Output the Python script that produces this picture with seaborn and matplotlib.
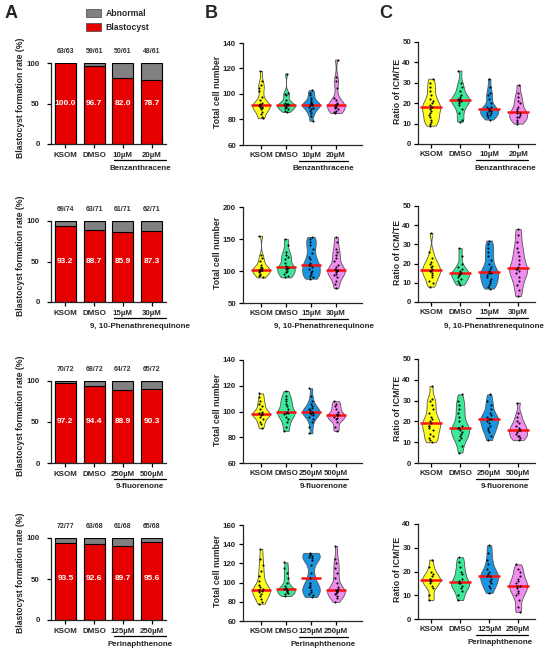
import numpy as np
import pandas as pd
import matplotlib
matplotlib.use("Agg")
import matplotlib.pyplot as plt
import seaborn as sns
from matplotlib.patches import Patch
from matplotlib.transforms import blended_transform_factory, offset_copy

# ---------------- data ----------------
chemicals = ["Benzanthracene", "9, 10-Phenathrenequinone", "9-fluorenone", "Perinaphthenone"]
groups_1 = ["KSOM", "DMSO", "10µM", "20µM"]
groups_2 = ["KSOM", "DMSO", "15µM", "30µM"]
groups_3 = ["KSOM", "DMSO", "250µM", "500µM"]
groups_4 = ["KSOM", "DMSO", "125µM", "250µM"]

blasto_1 = [63, 59, 50, 48]
total_1 = [63, 61, 61, 61]
blasto_2 = [69, 63, 61, 62]
total_2 = [74, 71, 71, 71]
blasto_3 = [70, 68, 64, 65]
total_3 = [72, 72, 72, 72]
blasto_4 = [72, 63, 61, 65]
total_4 = [77, 68, 68, 68]

cells_1 = [
    [81, 82, 84, 86, 88, 89, 90, 90, 91, 91, 91, 92, 93, 95, 98, 102, 105, 107, 110, 118],
    [86, 87, 88, 89, 90, 90, 91, 91, 91, 92, 92, 93, 95, 99, 100, 101, 116],
    [79, 83, 85, 87, 88, 89, 90, 91, 91, 92, 92, 93, 94, 95, 97, 99, 101, 103],
    [85, 86, 87, 88, 89, 90, 90, 91, 91, 92, 93, 95, 97, 105, 110, 113, 127],
]
ratio_1 = [
    [9, 10, 11, 12, 13, 14, 15, 16, 17, 18, 18, 19, 20, 21, 22, 24, 26, 28, 30, 32],
    [11, 12, 15, 17, 19, 20, 21, 21, 22, 22, 23, 24, 26, 28, 30, 36],
    [12, 13, 14, 14, 15, 15, 16, 16, 17, 17, 18, 18, 20, 22, 24, 25, 28, 32],
    [10, 11, 12, 13, 13, 14, 15, 15, 16, 17, 18, 20, 21, 23, 25, 29],
]
cells_2 = [
    [90, 92, 94, 96, 98, 100, 101, 102, 102, 103, 105, 107, 110, 115, 120, 125, 155],
    [90, 92, 95, 98, 100, 103, 105, 105, 108, 112, 118, 122, 125, 130, 140, 150],
    [88, 90, 92, 95, 98, 100, 103, 106, 110, 110, 113, 118, 122, 128, 135, 140, 145, 150, 153],
    [73, 80, 85, 90, 93, 96, 98, 100, 101, 101, 103, 106, 110, 115, 120, 125, 130, 135, 145, 153],
]
ratio_2 = [
    [8, 10, 11, 13, 14, 15, 16, 16, 17, 18, 19, 20, 21, 23, 26, 36],
    [9, 10, 11, 12, 13, 14, 14, 15, 15, 16, 17, 18, 20, 24, 28],
    [7, 8, 9, 10, 11, 12, 13, 14, 15, 15, 16, 17, 18, 20, 22, 24, 26, 28, 30, 32],
    [3, 6, 9, 11, 13, 15, 16, 17, 17, 18, 20, 22, 24, 26, 28, 31, 35, 38],
]
cells_3 = [
    [87, 90, 92, 94, 96, 97, 98, 98, 98, 99, 100, 102, 104, 106, 108, 111, 114],
    [85, 88, 92, 94, 96, 98, 99, 99, 100, 102, 104, 106, 108, 110, 112, 116],
    [83, 88, 92, 94, 96, 97, 98, 99, 99, 100, 100, 101, 102, 103, 104, 106, 108, 112, 118],
    [85, 88, 92, 94, 95, 96, 97, 97, 98, 100, 102, 104, 106, 108],
]
ratio_3 = [
    [10, 11, 12, 13, 14, 16, 17, 18, 18, 19, 20, 21, 22, 24, 26, 28, 30, 31, 37],
    [5, 8, 11, 12, 13, 14, 15, 16, 17, 17, 18, 20, 22, 24, 26, 28, 30, 33],
    [11, 13, 15, 16, 17, 18, 19, 20, 21, 21, 22, 23, 24, 26, 28, 30, 33],
    [11, 12, 13, 13, 14, 15, 16, 16, 17, 18, 19, 20, 22, 24, 29],
]
cells_4 = [
    [78, 80, 83, 86, 88, 90, 91, 92, 92, 93, 95, 98, 102, 107, 112, 118, 125, 135],
    [86, 88, 89, 90, 91, 92, 92, 93, 94, 96, 100, 105, 110, 115, 121],
    [85, 87, 88, 90, 92, 95, 95, 97, 100, 105, 110, 118, 124, 126, 127, 128, 129, 130, 131],
    [80, 84, 86, 88, 89, 90, 91, 91, 92, 93, 95, 100, 105, 110, 115, 120, 125, 138],
]
ratio_4 = [
    [8, 10, 13, 14, 15, 16, 16, 17, 17, 18, 19, 20, 22, 25],
    [8, 10, 12, 13, 14, 15, 15, 16, 17, 19, 20, 22, 24, 26],
    [11, 13, 14, 15, 16, 17, 18, 18, 19, 20, 21, 23, 25, 28, 31],
    [3, 5, 8, 10, 11, 12, 13, 14, 14, 15, 16, 17, 18, 20, 21, 23],
]

cell_ticks = [[60, 80, 100, 120, 140], [50, 100, 150, 200], [60, 80, 100, 120, 140], [60, 80, 100, 120, 140, 160]]
ratio_ticks = [[0, 10, 20, 30, 40, 50], [0, 10, 20, 30, 40, 50], [0, 10, 20, 30, 40, 50], [0, 10, 20, 30, 40]]
bar_ticks = [0, 50, 100]

# ---------------- style ----------------
W, H = 550, 658
sns.set_theme(style="ticks")
plt.rcParams["font.family"] = ["Liberation Sans", "DejaVu Sans"]
plt.rcParams["font.weight"] = "bold"
plt.rcParams["axes.labelweight"] = "bold"
plt.rcParams["axes.linewidth"] = 0.9

RED = "#E60000"
GRAY = "#808080"
VCOLORS = ["#FFFF1A", "#3CE89A", "#1A96E0", "#F28CF0"]

fig = plt.figure(figsize=(W / 100, H / 100), dpi=100)


def rect(l, t, r, b):
    return [l / W, 1 - b / H, (r - l) / W, (b - t) / H]


colA = (51, 166)
colB = (243, 362)
colC = (418, 535)
rowsA = [(63, 144), (221, 302), (381, 463), (538, 620)]
rowsB = [(43, 145), (207, 303), (360, 463), (525, 621)]
rowsC = [(42, 144), (206, 302), (359, 463), (524, 619)]
textC = [505, 494, 505, 500]

groups_all = [groups_1, groups_2, groups_3, groups_4]
blasto_all = [blasto_1, blasto_2, blasto_3, blasto_4]
total_all = [total_1, total_2, total_3, total_4]
cells_all = [cells_1, cells_2, cells_3, cells_4]
ratio_all = [ratio_1, ratio_2, ratio_3, ratio_4]


def style_axis(ax, pad):
    sns.despine(ax=ax)
    ax.tick_params(axis="both", length=3, width=0.9, labelsize=5.7, pad=pad, color="black")
    for lab in ax.get_xticklabels() + ax.get_yticklabels():
        lab.set_fontweight("bold")
    ax.set_xlabel("")


def group_line(ax, col, xlim, px0, px1, label, text_px=None):
    l, r = col
    unit = (r - l) / (xlim[1] - xlim[0])
    x0 = (px0 - l) / unit + xlim[0]
    x1 = (px1 - l) / unit + xlim[0]
    xt = (x0 + x1) / 2 if text_px is None else (text_px - l) / unit + xlim[0]
    base = blended_transform_factory(ax.transData, ax.transAxes)
    tl = offset_copy(base, fig=fig, y=-16, units="dots")
    tt = offset_copy(base, fig=fig, y=-24, units="dots")
    ax.plot([x0, x1], [0, 0], transform=tl, color="black", lw=0.9, clip_on=False)
    ax.text(xt, 0, label, transform=tt, ha="center", va="center",
            fontsize=5.8, fontweight="bold", clip_on=False)


def make_df(groups, values):
    g, v = [], []
    for name, vals in zip(groups, values):
        g += [name] * len(vals)
        v += list(vals)
    return pd.DataFrame({"group": g, "value": v})


def violin_panel(ax, groups, values, ticks, ylabel, col, xlim, width, lab_x):
    df = make_df(groups, values)
    sns.violinplot(data=df, x="group", y="value", hue="group", order=groups, hue_order=groups,
                   palette=VCOLORS, saturation=1, cut=0, inner=None, density_norm="width",
                   width=width, linewidth=0.6, linecolor="#555555", bw_adjust=0.6,
                   legend=False, ax=ax)
    sns.stripplot(data=df, x="group", y="value", order=groups, color="black", size=1.5,
                  jitter=0.08, ax=ax)
    sns.boxplot(data=df, x="group", y="value", order=groups, width=0.78, showbox=False,
                showcaps=False, showfliers=False, whis=0,
                whiskerprops=dict(visible=False),
                medianprops=dict(color="#FF1010", linewidth=1.8), ax=ax)
    ax.set_ylim(ticks[0], ticks[-1])
    ax.set_yticks(ticks)
    ax.set_xlim(*xlim)
    ax.set_ylabel(ylabel, fontsize=6.3, fontweight="bold")
    l, r = col
    ax.yaxis.set_label_coords((lab_x - l) / (r - l), 0.52)
    style_axis(ax, 2)


for i in range(4):
    # ---- column A: stacked bars ----
    axA = fig.add_axes(rect(colA[0], rowsA[i][0], colA[1], rowsA[i][1]))
    groups = groups_all[i]
    b = np.array(blasto_all[i], dtype=float)
    t = np.array(total_all[i], dtype=float)
    pct = b / t * 100
    full = t / t * 100
    sns.barplot(x=groups, y=full, order=groups, color=GRAY, saturation=1, width=0.73,
                edgecolor="black", linewidth=0.8, errorbar=None, ax=axA)
    sns.barplot(x=groups, y=pct, order=groups, color=RED, saturation=1, width=0.73,
                edgecolor="black", linewidth=0.8, errorbar=None, ax=axA)
    for j in range(4):
        axA.text(j, 50, f"{pct[j]:.1f}", ha="center", va="center", color="white",
                 fontsize=6, fontweight="bold")
        axA.text(j, 114, f"{int(b[j])}/{int(t[j])}", ha="center", va="center",
                 color="#333333", fontsize=5, fontweight="bold", clip_on=False)
    axA.set_ylim(0, 100)
    axA.set_yticks(bar_ticks)
    axA.set_xlim(-0.5, 3.5)
    axA.set_ylabel("Blastocyst formation rate (%)", fontsize=6.2, fontweight="bold")
    axA.yaxis.set_label_coords((25 - colA[0]) / (colA[1] - colA[0]), 0.57)
    style_axis(axA, 5)
    axA.tick_params(axis="x", pad=3)
    group_line(axA, colA, (-0.5, 3.5), 114, 166, chemicals[i])

    # ---- column B: total cell number ----
    xlimB = (-0.72, 4.04)
    axB = fig.add_axes(rect(colB[0], rowsB[i][0], colB[1], rowsB[i][1]))
    violin_panel(axB, groups, cells_all[i], cell_ticks[i], "Total cell number", colB, xlimB, 0.7, 222)
    group_line(axB, colB, xlimB, 299, 348, chemicals[i])

    # ---- column C: ratio ICM/TE ----
    xlimC = (-0.45, 3.58)
    axC = fig.add_axes(rect(colC[0], rowsC[i][0], colC[1], rowsC[i][1]))
    violin_panel(axC, groups, ratio_all[i], ratio_ticks[i], "Ratio of ICM/TE", colC, xlimC, 0.62, 402)
    group_line(axC, colC, xlimC, 476, 528, chemicals[i], textC[i])

# panel letters
for letter, px in [("A", 11), ("B", 211), ("C", 386)]:
    fig.text(px / W, 1 - 13 / H, letter, ha="center", va="center", fontsize=13, fontweight="bold")

# legend
handles = [Patch(facecolor=GRAY, edgecolor="#444444", linewidth=0.5),
           Patch(facecolor=RED, edgecolor="#444444", linewidth=0.5)]
fig.legend(handles, ["Abnormal", "Blastocyst"], loc="upper left",
           bbox_to_anchor=(86 / W, 1 - 9 / H), frameon=False,
           handlelength=1.7, handleheight=1.05, handletextpad=0.6, labelspacing=0.6,
           borderpad=0, borderaxespad=0, prop={"weight": "bold", "size": 6.2})

fig.savefig("out.png", dpi=100)
